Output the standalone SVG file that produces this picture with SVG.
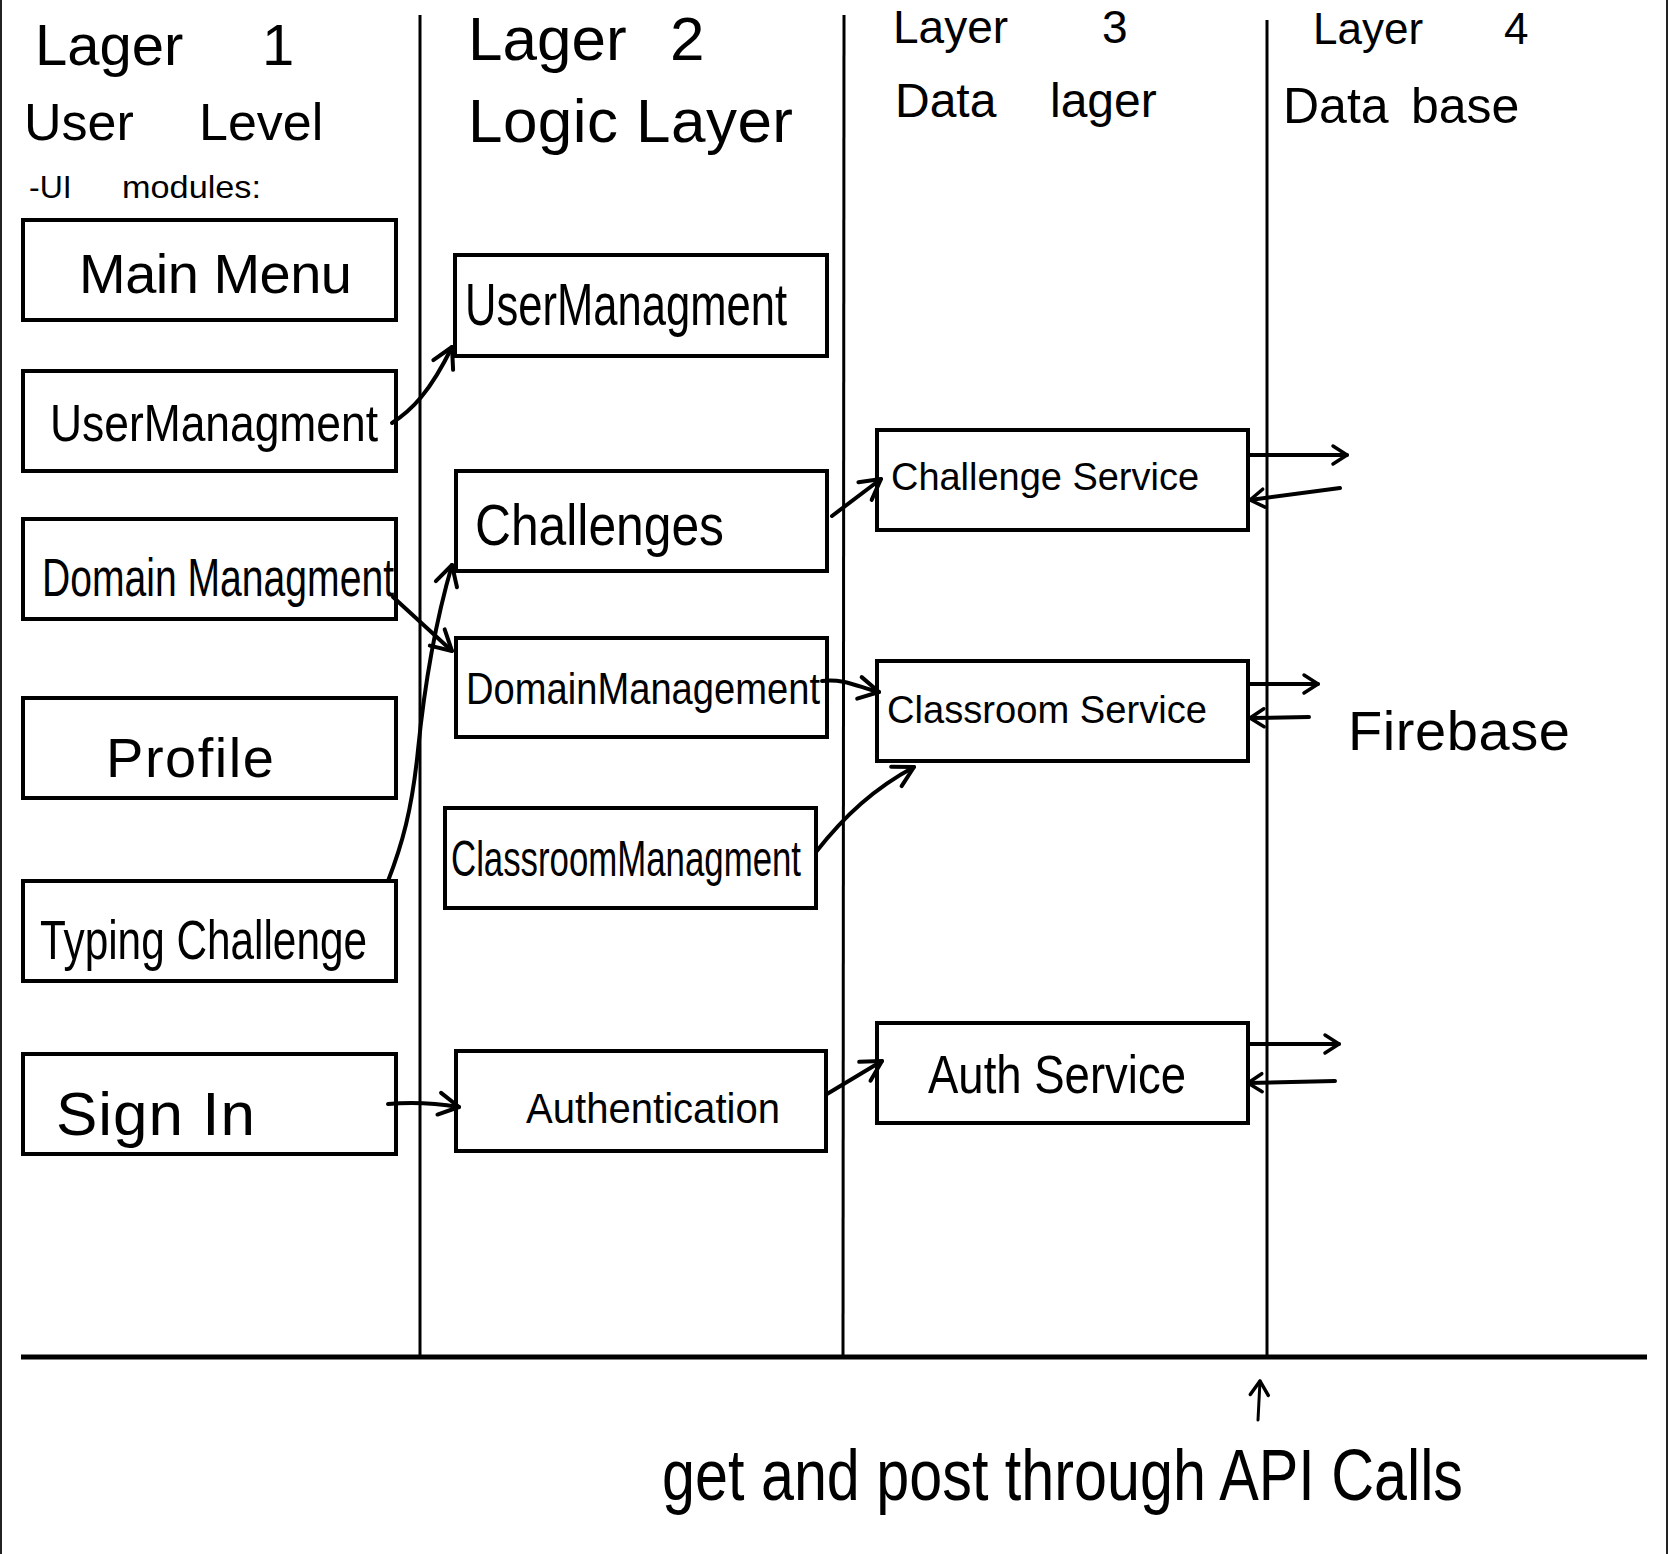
<svg xmlns="http://www.w3.org/2000/svg" width="1668" height="1554" viewBox="0 0 1668 1554">
  <defs>
    <style>
      .box { fill: #fff; stroke: #000; stroke-width: 4; }
      .lane { stroke: #000; stroke-width: 3; fill: none; }
      .base { stroke: #000; stroke-width: 5; fill: none; }
      .edge { stroke: #000; stroke-width: 4; fill: none; stroke-linecap: round; stroke-linejoin: round; }
      .t { font-family: "Liberation Sans", "DejaVu Sans", sans-serif; fill: #000; }
    </style>
    <marker id="arrow" markerUnits="userSpaceOnUse" viewBox="-30 -20 40 40" markerWidth="40" markerHeight="40" refX="0" refY="0" orient="auto">
      <path d="M-20,-11 L0,0 L-20,11" fill="none" stroke="#000" stroke-width="4" stroke-linecap="round" stroke-linejoin="round"/>
    </marker>
    <marker id="arrow-sm" markerUnits="userSpaceOnUse" viewBox="-30 -20 40 40" markerWidth="40" markerHeight="40" refX="0" refY="0" orient="auto">
      <path d="M-14,-9 L0,0 L-14,9" fill="none" stroke="#000" stroke-width="3.5" stroke-linecap="round" stroke-linejoin="round"/>
    </marker>
  </defs>

  <rect x="0" y="0" width="1668" height="1554" fill="#fff"/>
  <!-- page edges -->
  <line x1="1" y1="0" x2="1" y2="1554" stroke="#222" stroke-width="2"/>
  <line x1="1667" y1="0" x2="1667" y2="1554" stroke="#222" stroke-width="2"/>

  <!-- lane dividers and base line -->
  <g id="lanes">
    <line class="lane" x1="420" y1="15" x2="420" y2="1357"/>
    <line class="lane" x1="844" y1="15" x2="843" y2="1357"/>
    <line class="lane" x1="1267" y1="20" x2="1267" y2="1357"/>
    <line class="base" x1="21" y1="1357" x2="1647" y2="1357"/>
  </g>

  <!-- lane headings -->
  <g id="headings" class="t">
    <text x="35" y="65" font-size="58">Lager <tspan x="262">1</tspan></text>
    <text x="24" y="140" font-size="52">User <tspan x="199">Level</tspan></text>
    <text x="29" y="198" font-size="32">-UI <tspan x="122" textLength="139" lengthAdjust="spacingAndGlyphs">modules:</tspan></text>
    <text x="468" y="60" font-size="62">Lager <tspan x="670">2</tspan></text>
    <text x="468" y="142" font-size="62" textLength="325" lengthAdjust="spacing">Logic Layer</text>
    <text x="893" y="43" font-size="46">Layer <tspan x="1102">3</tspan></text>
    <text x="895" y="117" font-size="48">Data <tspan x="1050">lager</tspan></text>
    <text x="1313" y="44" font-size="44">Layer <tspan x="1504">4</tspan></text>
    <text x="1283" y="123" font-size="50">Data <tspan x="1411">base</tspan></text>
  </g>

  <!-- Layer 1: UI modules -->
  <g id="ui-main-menu">
    <rect class="box" x="23" y="220" width="373" height="100"/>
    <text class="t" x="79" y="293" font-size="56" textLength="273" lengthAdjust="spacing">Main Menu</text>
  </g>
  <g id="ui-user-managment">
    <rect class="box" x="23" y="371" width="373" height="100"/>
    <text class="t" x="50" y="441" font-size="52" textLength="328" lengthAdjust="spacingAndGlyphs">UserManagment</text>
  </g>
  <g id="ui-domain-managment">
    <rect class="box" x="23" y="519" width="373" height="100"/>
    <text class="t" x="42" y="596" font-size="54" textLength="352" lengthAdjust="spacingAndGlyphs">Domain Managment</text>
  </g>
  <g id="ui-profile">
    <rect class="box" x="23" y="698" width="373" height="100"/>
    <text class="t" x="106" y="777" font-size="56" textLength="168" lengthAdjust="spacing">Profile</text>
  </g>
  <g id="ui-typing-challenge">
    <rect class="box" x="23" y="881" width="373" height="100"/>
    <text class="t" x="40" y="959" font-size="56" textLength="327" lengthAdjust="spacingAndGlyphs">Typing Challenge</text>
  </g>
  <g id="ui-sign-in">
    <rect class="box" x="23" y="1054" width="373" height="100"/>
    <text class="t" x="56" y="1135" font-size="62" textLength="199" lengthAdjust="spacing">Sign In</text>
  </g>

  <!-- Layer 2: logic -->
  <g id="logic-user-managment">
    <rect class="box" x="455" y="255" width="372" height="101"/>
    <text class="t" x="465" y="325" font-size="60" textLength="322" lengthAdjust="spacingAndGlyphs">UserManagment</text>
  </g>
  <g id="logic-challenges">
    <rect class="box" x="456" y="471" width="371" height="100"/>
    <text class="t" x="475" y="545" font-size="58" textLength="249" lengthAdjust="spacingAndGlyphs">Challenges</text>
  </g>
  <g id="logic-domain-management">
    <rect class="box" x="456" y="638" width="371" height="99"/>
    <text class="t" x="466" y="704" font-size="44" textLength="354" lengthAdjust="spacingAndGlyphs">DomainManagement</text>
  </g>
  <g id="logic-classroom-managment">
    <rect class="box" x="445" y="808" width="371" height="100"/>
    <text class="t" x="451" y="876" font-size="50" textLength="350" lengthAdjust="spacingAndGlyphs">ClassroomManagment</text>
  </g>
  <g id="logic-authentication">
    <rect class="box" x="456" y="1051" width="370" height="100"/>
    <text class="t" x="526" y="1123" font-size="42" textLength="254" lengthAdjust="spacingAndGlyphs">Authentication</text>
  </g>

  <!-- Layer 3: data services -->
  <g id="svc-challenge">
    <rect class="box" x="877" y="430" width="371" height="100"/>
    <text class="t" x="891" y="490" font-size="38" textLength="308" lengthAdjust="spacingAndGlyphs">Challenge Service</text>
  </g>
  <g id="svc-classroom">
    <rect class="box" x="877" y="661" width="371" height="100"/>
    <text class="t" x="887" y="723" font-size="38" textLength="320" lengthAdjust="spacingAndGlyphs">Classroom Service</text>
  </g>
  <g id="svc-auth">
    <rect class="box" x="877" y="1023" width="371" height="100"/>
    <text class="t" x="928" y="1093" font-size="54" textLength="258" lengthAdjust="spacingAndGlyphs">Auth Service</text>
  </g>

  <!-- Layer 4: database -->
  <g id="db-firebase">
    <text class="t" x="1348" y="750" font-size="56" textLength="222" lengthAdjust="spacing">Firebase</text>
  </g>

  <!-- connectors -->
  <g id="connectors">
    <path class="edge" marker-end="url(#arrow)" d="M392,423 C412,410 430,392 452,347"/>
    <path class="edge" marker-end="url(#arrow)" d="M393,597 L452,651"/>
    <path class="edge" marker-end="url(#arrow)" d="M388,881 C402,845 412,810 418,750 C425,680 436,620 452,565"/>
    <path class="edge" marker-end="url(#arrow)" d="M832,516 L881,479"/>
    <path class="edge" marker-end="url(#arrow)" d="M822,681 C845,678 860,688 879,692"/>
    <path class="edge" marker-end="url(#arrow)" d="M816,852 C845,815 875,788 914,767"/>
    <path class="edge" marker-end="url(#arrow)" d="M388,1104 C410,1102 435,1103 459,1107"/>
    <path class="edge" marker-end="url(#arrow)" d="M827,1094 L882,1061"/>

    <path class="edge" marker-end="url(#arrow-sm)" d="M1249,455 L1347,455"/>
    <path class="edge" marker-end="url(#arrow-sm)" d="M1340,488 L1250,500"/>
    <path class="edge" marker-end="url(#arrow-sm)" d="M1249,684 L1318,684"/>
    <path class="edge" marker-end="url(#arrow-sm)" d="M1309,717 L1250,718"/>
    <path class="edge" marker-end="url(#arrow-sm)" d="M1249,1044 L1339,1044"/>
    <path class="edge" marker-end="url(#arrow-sm)" d="M1335,1081 L1248,1083"/>

    <path class="edge" marker-end="url(#arrow-sm)" d="M1258,1420 L1260,1381" style="stroke-width:3"/>
  </g>

  <!-- API note -->
  <text class="t" x="662" y="1500" font-size="72" textLength="801" lengthAdjust="spacingAndGlyphs">get and post through API Calls</text>
</svg>
